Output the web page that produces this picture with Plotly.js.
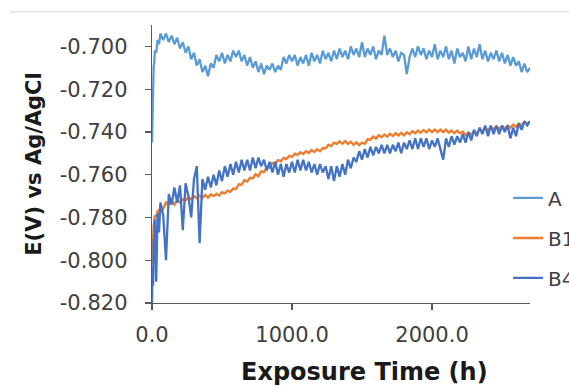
<!DOCTYPE html>
<html>
<head>
<meta charset="utf-8">
<script src="https://cdn.plot.ly/plotly-3.0.1.min.js"></script>
<style>html,body{margin:0;padding:0;background:#fff;}#chart{width:569px;height:387px;}</style>
</head>
<body>
<div id="chart"></div>
<script>
var seriesNames = ["A", "B1", "B4"];
var xTitle = "Exposure Time (h)";
var yTitle = "E(V) vs Ag/AgCl";
var xTickVals = [0, 1000, 2000];
var xTickText = ["0.0", "1000.0", "2000.0"];
var yTickVals = [-0.82, -0.80, -0.78, -0.76, -0.74, -0.72, -0.70];
var yTickText = ["-0.820", "-0.800", "-0.780", "-0.760", "-0.740", "-0.720", "-0.700"];

var hours = [0,4,8,12,16,20,30,40,50,60,
80,100,120,140,160,180,200,220,240,260,
280,300,320,340,360,380,400,420,440,460,
480,500,520,540,560,580,600,620,640,660,
680,700,720,740,760,780,800,820,840,860,
880,900,920,940,960,980,1000,1020,1040,1060,
1080,1100,1120,1140,1160,1180,1200,1220,1240,1260,
1280,1300,1320,1340,1360,1380,1400,1420,1440,1460,
1480,1500,1520,1540,1560,1580,1600,1620,1640,1660,
1680,1700,1720,1740,1760,1780,1800,1820,1840,1860,
1880,1900,1920,1940,1960,1980,2000,2020,2040,2060,
2080,2100,2120,2140,2160,2180,2200,2220,2240,2260,
2280,2300,2320,2340,2360,2380,2400,2420,2440,2460,
2480,2500,2520,2540,2560,2580,2600,2620,2640,2660,
2680,2700];

var seriesA = [-0.745,-0.726,-0.719,-0.709,-0.708,-0.702,-0.703,-0.697,-0.699,-0.694,
-0.697,-0.694,-0.698,-0.695,-0.699,-0.696,-0.701,-0.698,-0.703,-0.700,
-0.706,-0.703,-0.709,-0.706,-0.712,-0.709,-0.714,-0.708,-0.710,-0.704,
-0.707,-0.703,-0.708,-0.704,-0.707,-0.702,-0.705,-0.702,-0.707,-0.704,
-0.709,-0.705,-0.710,-0.707,-0.712,-0.708,-0.713,-0.709,-0.711,-0.708,
-0.712,-0.709,-0.711,-0.705,-0.708,-0.704,-0.707,-0.704,-0.709,-0.705,
-0.708,-0.704,-0.709,-0.703,-0.707,-0.704,-0.708,-0.702,-0.706,-0.703,
-0.707,-0.702,-0.706,-0.701,-0.705,-0.702,-0.706,-0.700,-0.704,-0.701,
-0.705,-0.698,-0.705,-0.701,-0.704,-0.700,-0.706,-0.702,-0.704,-0.695,
-0.704,-0.701,-0.705,-0.702,-0.707,-0.703,-0.704,-0.713,-0.705,-0.701,
-0.705,-0.700,-0.704,-0.701,-0.706,-0.702,-0.705,-0.699,-0.706,-0.702,
-0.705,-0.700,-0.706,-0.702,-0.708,-0.701,-0.705,-0.703,-0.707,-0.700,
-0.706,-0.701,-0.705,-0.699,-0.706,-0.702,-0.707,-0.703,-0.706,-0.702,
-0.707,-0.703,-0.708,-0.704,-0.709,-0.705,-0.709,-0.707,-0.712,-0.708,
-0.712,-0.710];

var seriesB1 = [-0.802,-0.794,-0.790,-0.784,-0.782,-0.779,-0.780,-0.777,-0.777,-0.775,
-0.776,-0.773,-0.774,-0.772,-0.774,-0.772,-0.773,-0.7715,-0.772,-0.7705,
-0.7715,-0.770,-0.771,-0.7698,-0.7708,-0.7695,-0.7707,-0.7693,-0.770,-0.769,
-0.7697,-0.7682,-0.7687,-0.7675,-0.768,-0.7665,-0.7667,-0.7645,-0.7647,-0.7625,
-0.7632,-0.7615,-0.7617,-0.7598,-0.7607,-0.7585,-0.7588,-0.7565,-0.7567,-0.7545,
-0.7548,-0.7532,-0.7537,-0.7522,-0.7527,-0.7512,-0.7517,-0.7502,-0.7507,-0.7495,
-0.7503,-0.7490,-0.7498,-0.7485,-0.7494,-0.7481,-0.749,-0.7475,-0.7477,-0.7460,
-0.7466,-0.7450,-0.7456,-0.7444,-0.7455,-0.7443,-0.7456,-0.7446,-0.746,-0.7449,
-0.7462,-0.7450,-0.7455,-0.7434,-0.7436,-0.7422,-0.7431,-0.7415,-0.7425,-0.7412,
-0.7422,-0.7409,-0.7419,-0.7406,-0.7416,-0.7404,-0.7416,-0.7402,-0.7411,-0.7397,
-0.7406,-0.7394,-0.7404,-0.7391,-0.7402,-0.7389,-0.7401,-0.7389,-0.7401,-0.7389,
-0.7401,-0.7389,-0.7403,-0.7394,-0.7406,-0.7394,-0.7406,-0.7399,-0.7416,-0.7404,
-0.7411,-0.7399,-0.7406,-0.7389,-0.7396,-0.7382,-0.7391,-0.7377,-0.7388,-0.7374,
-0.7386,-0.7374,-0.7384,-0.7370,-0.7380,-0.7366,-0.7376,-0.7361,-0.7370,-0.7354,
-0.7362,-0.7352];

var seriesB4 = [-0.820,-0.803,-0.812,-0.790,-0.799,-0.781,-0.810,-0.778,-0.787,-0.773,
-0.779,-0.800,-0.769,-0.774,-0.766,-0.773,-0.765,-0.786,-0.764,-0.770,
-0.780,-0.762,-0.756,-0.792,-0.762,-0.767,-0.761,-0.766,-0.760,-0.765,
-0.758,-0.763,-0.756,-0.761,-0.755,-0.760,-0.754,-0.759,-0.753,-0.758,
-0.753,-0.758,-0.752,-0.757,-0.752,-0.756,-0.753,-0.758,-0.754,-0.759,
-0.754,-0.760,-0.755,-0.761,-0.755,-0.759,-0.754,-0.759,-0.753,-0.758,
-0.753,-0.758,-0.754,-0.759,-0.755,-0.760,-0.755,-0.759,-0.756,-0.762,
-0.756,-0.763,-0.756,-0.761,-0.755,-0.760,-0.753,-0.757,-0.752,-0.754,
-0.749,-0.753,-0.748,-0.752,-0.747,-0.751,-0.747,-0.750,-0.746,-0.750,
-0.746,-0.750,-0.746,-0.749,-0.745,-0.750,-0.745,-0.748,-0.744,-0.748,
-0.743,-0.748,-0.743,-0.747,-0.743,-0.748,-0.744,-0.747,-0.743,-0.748,
-0.753,-0.743,-0.747,-0.742,-0.746,-0.742,-0.745,-0.741,-0.745,-0.740,
-0.744,-0.739,-0.742,-0.738,-0.741,-0.737,-0.742,-0.737,-0.741,-0.737,
-0.741,-0.737,-0.740,-0.737,-0.743,-0.738,-0.742,-0.736,-0.739,-0.735,
-0.737,-0.735];

var FONT = "'DejaVu Sans', 'Open Sans', sans-serif";

var traces = [
  {x: hours, y: seriesA, name: seriesNames[0], legendgroup: "g1", type: "scatter", mode: "lines",
   line: {color: "#5B9BD5", width: 2.3}},
  {x: hours, y: seriesB1, name: seriesNames[1], legendgroup: "g2", type: "scatter", mode: "lines",
   line: {color: "#ED7D31", width: 2.4}},
  {x: hours, y: seriesB4, name: seriesNames[2], legendgroup: "g3", type: "scatter", mode: "lines",
   line: {color: "#4472C4", width: 2.3}}
];

var layout = {
  width: 569, height: 387,
  margin: {l: 152, r: 39, t: 25, b: 84, autoexpand: false},
  paper_bgcolor: "#ffffff", plot_bgcolor: "#ffffff",
  font: {family: FONT, color: "#404040", size: 21},
  showlegend: true,
  legend: {x: 0.942, xanchor: "left", y: 0.448, yanchor: "top", bgcolor: "rgba(0,0,0,0)",
           font: {family: FONT, size: 20, color: "#404040"}, tracegroupgap: 11, traceorder: "grouped"},
  xaxis: {range: [0, 2700], tickvals: xTickVals, ticktext: xTickText, showgrid: false, zeroline: false,
          showline: true, linecolor: "#595959", linewidth: 1.3, ticks: "outside", ticklen: 6, tickcolor: "#595959",
          tickwidth: 1.3, ticklabelstandoff: 6, tickfont: {family: FONT, size: 21, color: "#404040"}},
  yaxis: {range: [-0.82, -0.69], tickvals: yTickVals, ticktext: yTickText, showgrid: false, zeroline: false,
          showline: true, linecolor: "#595959", linewidth: 1.3, ticks: "outside", ticklen: 6, tickcolor: "#595959",
          tickwidth: 1.3, ticklabelstandoff: 13, tickfont: {family: FONT, size: 21, color: "#404040"},
          title: {text: yTitle, font: {family: FONT, size: 21, color: "#1a1a1a", weight: "bold"}, standoff: 12}},
  annotations: [{text: "<b>" + xTitle + "</b>", xref: "paper", yref: "paper", x: 0.561, y: -0.248,
                 xanchor: "center", yanchor: "middle", showarrow: false,
                 font: {family: FONT, size: 24, color: "#1a1a1a"}}],
  shapes: [{type: "line", xref: "paper", yref: "paper", x0: -0.376, x1: 1.11, y0: 1.048, y1: 1.048,
            line: {color: "#e3e3e3", width: 1.5}}]
};

Plotly.newPlot("chart", traces, layout, {displayModeBar: false, staticPlot: true});
</script>
</body>
</html>
